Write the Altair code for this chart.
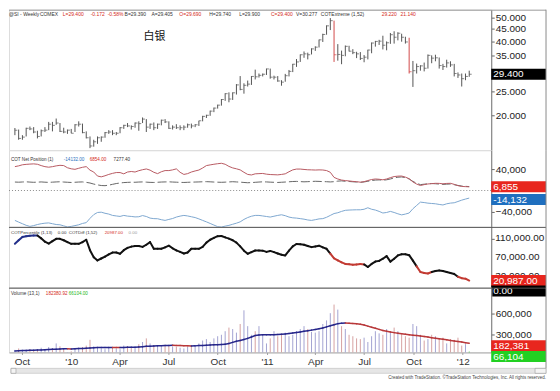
import altair as alt
import pandas as pd

FONT = "Liberation Sans"
CJK = "Noto Sans CJK SC"
FIRST_WEEK = "2009-09-18"

# ---------------- weekly silver (COMEX) bars ----------------
price_high = [17.75, 17.5, 16.6, 17.8, 18.0, 17.9, 17.3, 17.5, 17.9, 18.8, 18.8, 19.4, 18.6, 17.8, 17.5, 17.6,
              18.4, 18.9, 18.5, 17.2, 16.4, 15.9, 16.4, 16.4, 17.1, 17.4, 17.4, 17.1, 17.9, 18.3, 18.6, 18.2,
              18.7, 18.9, 19.6, 19.3, 18.5, 18.7, 18.5, 19.2, 19.3, 18.9, 18.2, 18.4, 18.2, 18.2, 18.5, 18.5,
              18.4, 19.0, 19.9, 20.1, 20.9, 21.5, 22.1, 23.3, 24.6, 24.8, 24.8, 26.8, 28.9, 27.0, 27.7, 28.9,
              30.7, 29.6, 29.6, 31.0,
              31.0, 29.0, 28.9, 27.8, 29.5, 30.6, 32.4, 33.9, 35.4, 36.4, 36.0, 37.5, 38.2, 40.7, 43.0, 46.5,
              49.8, 48.6, 39.0, 36.7, 38.5, 38.4, 37.2, 36.3, 36.2, 35.2, 37.0, 39.6, 40.2, 40.6, 42.2, 40.0,
              43.3, 44.0, 43.6, 43.0, 41.8, 41.4, 33.3, 32.5, 32.0, 32.8, 35.4, 35.1, 35.3, 34.4, 32.4, 33.7,
              33.2, 32.4, 29.9, 29.6,
              29.6, 30.4]
price_low = [16.6, 15.9, 15.9, 16.4, 17.4, 16.9, 16.1, 16.4, 17.1, 17.4, 17.2, 18.3, 17.1, 16.9, 16.8, 16.9,
             17.1, 18.0, 16.9, 16.1, 14.7, 14.9, 15.3, 15.6, 16.2, 16.8, 16.6, 16.6, 16.9, 17.6, 17.9, 17.5,
             17.8, 17.3, 18.6, 17.1, 17.6, 17.4, 17.6, 18.2, 18.6, 17.6, 17.5, 17.6, 17.4, 17.4, 17.8, 17.7,
             17.9, 18.1, 18.9, 19.5, 19.9, 20.6, 21.3, 21.9, 22.9, 22.6, 23.1, 24.3, 25.3, 24.5, 26.2, 26.6,
             28.0, 28.5, 28.8, 29.2,
             28.2, 28.0, 27.4, 26.4, 27.4, 28.8, 30.0, 31.5, 33.0, 34.3, 33.8, 35.4, 36.6, 37.8, 39.8, 42.6,
             44.5, 33.0, 33.4, 32.3, 34.8, 36.4, 35.5, 34.2, 33.6, 32.9, 33.8, 35.8, 38.1, 38.7, 37.1, 36.8,
             39.1, 39.2, 40.4, 39.9, 39.2, 29.6, 26.1, 29.6, 30.4, 30.2, 31.0, 32.6, 33.2, 31.0, 30.6, 31.3,
             31.5, 28.8, 28.4, 26.2,
             27.8, 28.7]
price_close = [17.4, 16.1, 16.3, 17.7, 17.6, 17.1, 16.4, 17.3, 17.4, 18.4, 18.2, 18.6, 17.2, 17.1, 17.4, 16.9,
               18.3, 18.4, 17.0, 16.2, 15.0, 15.6, 16.2, 16.3, 17.0, 17.1, 16.9, 16.9, 17.8, 18.2, 18.1, 18.0,
               18.6, 18.5, 19.3, 17.9, 18.4, 17.8, 18.4, 19.1, 18.8, 17.7, 17.9, 17.8, 17.8, 17.9, 18.3, 18.1,
               18.3, 19.0, 19.8, 20.0, 20.8, 21.4, 22.0, 23.2, 24.5, 23.3, 24.7, 26.6, 25.5, 26.5, 26.8, 28.8,
               28.7, 29.1, 29.4, 30.9,
               28.6, 28.6, 27.6, 27.3, 29.0, 30.2, 32.3, 33.0, 35.3, 35.6, 35.3, 37.3, 37.9, 40.6, 42.7, 46.3,
               48.6, 35.3, 35.4, 35.1, 38.2, 36.5, 36.0, 35.6, 34.1, 34.5, 36.9, 39.4, 40.0, 40.1, 38.6, 39.5,
               42.6, 41.6, 43.2, 41.6, 39.8, 30.1, 30.4, 31.6, 31.8, 31.1, 35.1, 34.2, 34.3, 31.9, 31.6, 32.7,
               32.1, 29.6, 29.2, 28.2,
               28.8, 29.4]
price_hot_weeks = [85, 105]

# ---------------- COT net position (thousands of contracts) ----------------
net_red = [44.6, 46, 48, 48.8, 49.3, 49.7, 49.0, 46.5, 44.5, 43.5,
           44.5, 46.0, 47.0, 46.5, 42.5, 40.5, 39.5, 41.5, 43.3, 44.6,
           38, 34.5, 27, 25.5, 27.5, 30, 32, 33.5, 33.5, 31.1,
           34.5, 35.5, 34.5, 37, 38.8, 40.2, 38, 34, 31.5, 35,
           37.2, 37.2, 38.5, 40.4, 34, 30, 31.5, 34.5, 36.5, 38.2,
           42, 46.5, 47.8, 49, 50, 50.8, 49, 45, 42.2, 40.5,
           38.5, 34, 30, 29, 31.1, 31.5, 31.8, 30.5, 29.8, 29.5,
           29.2, 30, 31.1, 35, 38.5, 40, 40, 39.3, 38.7, 38.5,
           38.2, 38.5, 38.3, 37.2, 34, 24.5, 21.5, 19.5, 18.5, 17.8,
           17, 16.5, 15.5, 16.5, 18.6, 20.5, 21.5, 21, 20, 21.5,
           24, 26, 26.8, 27, 25, 22, 16, 12, 9.3, 11,
           12.2, 12.8, 13.4, 13.3, 12.5, 13.2, 13.4, 11.5, 9, 7.6,
           7.2, 6.855]
net_black = [15.8, 15.5, 15.9, 16.2, 15.7, 15.3, 15.6, 16.0, 15.5, 15.2,
             15.6, 16.0, 16.3, 15.8, 15.4, 15.0, 15.4, 15.8, 16.0, 15.2,
             14.0, 12.0, 10.5, 9.3, 9.0, 10.0, 11.5, 13.0, 14.0, 14.8,
             15.2, 15.5, 15.4, 15.8, 16.0, 15.6, 15.2, 15.0, 15.4, 15.8,
             16.0, 16.2, 15.8, 15.5, 15.2, 15.0, 15.3, 15.6, 15.8, 16.0,
             16.3, 16.5, 16.2, 15.8, 15.5, 15.3, 15.6, 16.0, 16.4, 16.0,
             15.6, 15.0, 14.5, 14.8, 15.3, 15.8, 16.2, 16.0, 15.6, 15.3,
             15.0, 15.4, 15.8, 16.3, 16.8, 17.0, 16.6, 16.2, 16.5, 16.9,
             17.2, 17.0, 16.6, 16.4, 16.0, 16.5, 17.5, 18.0, 17.2, 16.8,
             16.3, 15.8, 15.2, 16.0, 17.2, 18.5, 19.5, 19.8, 19.2, 20.0,
             21.5, 23.5, 24.8, 25.3, 24.0, 21.5, 17.0, 13.5, 11.0, 11.8,
             12.5, 13.0, 12.6, 12.0, 11.4, 11.8, 12.2, 10.8, 9.5, 8.4,
             7.8, 7.277]
net_blue = [-55.8, -59, -62, -65, -67, -65.5, -63.5, -62, -61, -60.5,
            -62, -63.5, -64, -66, -68, -67, -65.5, -64, -61.5, -60,
            -52, -45, -41, -40.5, -42.5, -44, -46.5, -47.5, -48.4, -46.5,
            -47.8, -48.4, -49.3, -49, -46.8, -48.5, -51.5, -52.5, -52.7, -54.5,
            -55.8, -54, -52.3, -49.6, -47.8, -46.5, -47.5, -49, -50.5, -53,
            -55.8, -58.5, -61.5, -64.5, -67.5, -68.2, -66.5, -65.1, -63, -61,
            -58.5, -54, -50.5, -48, -46.5, -46.5, -47.5, -48.5, -49.6, -48,
            -46.5, -45.3, -47, -49.6, -51, -51.5, -52.5, -53.5, -55, -55.8,
            -54.5, -53, -52.5, -50, -46.5, -43, -41.5, -39, -37, -36.5,
            -36.2, -36, -36, -35, -32.2, -35, -36.5, -39, -42, -41,
            -39, -41, -43.5, -45.5, -44, -42, -34, -27.9, -21.7, -22.5,
            -23.6, -24.2, -24.8, -26, -27, -24.8, -23.5, -22.9, -20.5, -18,
            -16, -14.132]

# ---------------- COT percentile (thousands) ----------------
pct_line = [98.5, 106, 113, 114.5, 115.5, 115.9, 115.9, 110, 103, 99,
            104, 109, 109, 106, 102, 98.5, 98.5, 98.5, 102, 107,
            85, 70, 63.4, 67.5, 71.5, 76, 80, 80, 77.5, 85,
            90, 92.5, 94, 94, 92, 96.5, 102, 88, 88, 88,
            91, 94.5, 89, 84.5, 81.5, 78, 80, 88, 88, 88,
            92, 101, 107, 111, 114.5, 115, 112, 109.5, 106, 101,
            93, 84, 77.5, 81, 84.4, 84.4, 84, 81.5, 83.5, 81,
            78, 75.5, 74, 84, 93, 98, 97.5, 96.5, 94, 91.5,
            93, 94.5, 91, 88, 78, 68, 63.5, 59.5, 56, 55.5,
            54.5, 55, 56, 55, 49.5, 56, 61, 62.5, 67, 72.5,
            61, 67, 74, 76.5, 76.5, 74.5, 63, 51, 39, 37,
            36, 39, 41, 42.4, 41, 39, 37, 35, 29, 26,
            25, 20.987]
pct_red_spans = [(84, 93), (107, 111), (118, 121)]
pct_navy_spans = [(0, 6)]
pct_tick_values = [30, 70, 110]
pct_tick_labels = ["30,000.00", "70,000.00", "110,000.00"]

# ---------------- volume (thousands) ----------------
vol_bars = [90, 110, 80, 95, 100, 85, 90, 120, 95, 130,
            110, 180, 140, 100, 60, 70, 110, 120, 130, 150,
            230, 140, 120, 110, 100, 130, 120, 110, 100, 150,
            140, 130, 120, 170, 200, 250, 180, 150, 140, 130,
            160, 150, 140, 130, 120, 110, 130, 150, 140, 180,
            220, 240, 200, 250, 280, 300, 350, 400, 380, 330,
            450, 640, 420, 300, 350, 420, 300, 180, 250, 350,
            280, 300, 330, 280, 300, 350, 380, 420, 380, 340,
            330, 350, 450, 500, 600, 720, 650, 420, 380, 300,
            280, 250, 240, 260, 200, 280, 350, 320, 300, 380,
            330, 400, 350, 300, 280, 260, 450, 420, 300, 220,
            240, 300, 280, 250, 260, 180, 240, 230, 260, 150,
            170, 66.104]
vol_ma = [75, 78, 80, 82, 84, 86, 88, 90, 92, 95,
          98, 100, 103, 105, 105, 104, 106, 108, 110, 112,
          118, 120, 122, 122, 123, 124, 124, 123, 122, 124,
          126, 127, 128, 130, 135, 140, 142, 145, 146, 148,
          150, 152, 153, 152, 150, 148, 146, 145, 146, 150,
          150, 155, 158, 160, 163, 166, 170, 180, 195, 210,
          222, 235, 250, 270, 290, 298, 300, 300, 300, 302,
          305, 308, 312, 318, 325, 332, 340, 348, 356, 365,
          375, 385, 395, 410, 425, 440, 455, 462, 464, 462,
          458, 452, 445, 435, 420, 405, 390, 375, 360, 348,
          338, 330, 322, 315, 308, 300, 295, 290, 282, 275,
          268, 260, 252, 245, 238, 230, 222, 215, 208, 200,
          190, 182.381]

x_tick_months = [(2009, 10), (2010, 1), (2010, 4), (2010, 7), (2010, 10),
                 (2011, 1), (2011, 4), (2011, 7), (2011, 10), (2012, 1)]

# ---------------- layout ----------------
W = 484
AX_R = 539
H_PRICE, H_NET, H_PCT, H_VOL = 141, 77, 61, 65
DARK, RED, BLUE, GREEN = "#333333", "#d42a22", "#2a72c0", "#24b824"

dates = pd.date_range(FIRST_WEEK, periods=len(price_close), freq="7D")
one = pd.DataFrame({"k": [0]})

xsc = alt.Scale(domain=[alt.DateTime(year=2009, month=9, date=7),
                        alt.DateTime(year=2012, month=2, date=23)])
X = alt.X("date:T", scale=xsc, axis=None)

axr = dict(orient="right", title=None, grid=False, tickSize=3, tickColor="#666",
           domainColor="#777", labelFontSize=10, labelColor="#222", labelPadding=1,
           labelFont=FONT, labelOverlap=False)


def header(tokens, y, size):
    layers = []
    for txt, px, col in tokens:
        layers.append(alt.Chart(one).mark_text(text=txt, color=col, fontSize=size, font=FONT,
                                               align="left", baseline="middle")
                      .encode(x=alt.value(px), y=alt.value(y)))
    return layers


def badge(value, label, fill, scale, dy=0, tcolor="white"):
    d = pd.DataFrame({"v": [value], "t": [label]})
    r = alt.Chart(d).mark_rule(color=fill, strokeWidth=11, strokeCap="butt", yOffset=dy).encode(
        x=alt.value(W), x2=alt.value(AX_R), y=alt.Y("v:Q", scale=scale))
    t = alt.Chart(d).mark_text(align="left", baseline="middle", color=tcolor, fontSize=10,
                               font=FONT, yOffset=dy).encode(
        x=alt.value(W + 2), y=alt.Y("v:Q", scale=scale), text="t:N")
    return [r, t]


def right_border(h):
    return alt.Chart(one).mark_rule(color="#8a8a8a").encode(
        x=alt.value(AX_R), y=alt.value(0), y2=alt.value(h))


def top_line(color="#555"):
    return alt.Chart(one).mark_rule(color=color, strokeWidth=1).encode(
        x=alt.value(0), x2=alt.value(AX_R), y=alt.value(0.5))


# ---------------- price panel ----------------
price_df = pd.DataFrame({"date": dates, "high": price_high, "low": price_low, "close": price_close})
price_df["col"] = ["#d24a4a" if i in price_hot_weeks else "#555555" for i in range(len(price_df))]
psc = alt.Scale(type="log", domain=[14.42, 53.88], nice=False)

p_bars = alt.Chart(price_df).mark_rule(strokeWidth=1).encode(
    x=X,
    y=alt.Y("low:Q", scale=psc,
            axis=alt.Axis(values=[20, 25, 35, 40, 45, 50], format=".3f", **axr)),
    y2="high:Q",
    color=alt.Color("col:N", scale=None))
p_close = alt.Chart(price_df).mark_tick(orient="horizontal", size=2.5, thickness=1, xOffset=1.2).encode(
    x=X, y=alt.Y("close:Q", scale=psc), color=alt.Color("col:N", scale=None))

price_tokens = [("@SI - Weekly", 0, DARK), ("COMEX", 31, DARK), ("L=29.400", 54, RED),
                ("-0.172", 82, RED), ("-0.58%", 99, RED), ("B=29.390", 116, DARK),
                ("A=29.405", 143, DARK), ("O=29.690", 171, RED), ("H=29.740", 201, DARK),
                ("L=29.900", 231, DARK), ("C=29.400", 263, RED), ("V=30.277", 288, DARK),
                ("COTExtreme (1,52)", 313, DARK), ("29.220", 374, RED), ("21.140", 393, RED)]
title = alt.Chart(one).mark_text(text="白银", font=CJK, fontSize=11, color="#111",
                                 align="center", baseline="middle").encode(
    x=alt.value(146), y=alt.value(27))

price_panel = alt.layer(
    p_bars, p_close, title, *header(price_tokens, 4, 5),
    *badge(29.4, "29.400", "#000000", psc),
    top_line("#9a9a9a"), right_border(H_PRICE)
).properties(width=W, height=H_PRICE)

# ---------------- COT net panel ----------------
net_df = pd.DataFrame({"date": dates, "red": net_red, "black": net_black, "blue": net_blue})
nsc = alt.Scale(domain=[-67.9, 75.3], nice=False, zero=False)
n_zero = alt.Chart(pd.DataFrame({"z": [0]})).mark_rule(color="#8c8c8c", strokeDash=[1, 2]).encode(
    y=alt.Y("z:Q", scale=nsc, axis=alt.Axis(values=[-40, 40],
                                              labelExpr="format(datum.value*1000, ',')", **axr)))
n_blue = alt.Chart(net_df).mark_line(color="#7ea8d0", strokeWidth=1).encode(
    x=X, y=alt.Y("blue:Q", scale=nsc))
n_black = alt.Chart(net_df).mark_line(color="#666666", strokeWidth=1, strokeDash=[9, 3]).encode(
    x=X, y=alt.Y("black:Q", scale=nsc))
n_red = alt.Chart(net_df).mark_line(color="#b85a62", strokeWidth=1).encode(
    x=X, y=alt.Y("red:Q", scale=nsc))
net_tokens = [("COT Net Position (1)", 2, DARK), ("-14132.00", 55, BLUE),
              ("6854.00", 81, RED), ("7277.40", 105, DARK)]
net_panel = alt.layer(
    n_zero, n_blue, n_black, n_red, *header(net_tokens, 10, 4.6),
    *badge(6.855, "6,855", "#e8261e", nsc),
    *badge(-14.132, "-14,132", "#1f6fbf", nsc, dy=1.5),
    right_border(H_NET)
).properties(width=W, height=H_NET)


# ---------------- COT percentile panel ----------------
def span_color(k, red_spans, navy_spans):
    for a, b in red_spans:
        if a <= k and k + 1 <= b:
            return "#c23a32"
    for a, b in navy_spans:
        if a <= k and k + 1 <= b:
            return "#23308a"
    return "#111111"


pct_seg = pd.DataFrame({
    "d0": dates[:-1], "d1": dates[1:],
    "v0": pct_line[:-1], "v1": pct_line[1:],
    "c": [span_color(k, pct_red_spans, pct_navy_spans) for k in range(len(pct_line) - 1)],
})
qsc = alt.Scale(domain=[6.05, 134.15], nice=False, zero=False)
q_axis = dict(axr)
q_axis.update(labels=False)
q_line = alt.Chart(pct_seg).mark_rule(strokeWidth=2, strokeCap="round").encode(
    x=alt.X("d0:T", scale=xsc, axis=None), x2="d1:T",
    y=alt.Y("v0:Q", scale=qsc, axis=alt.Axis(values=pct_tick_values, **q_axis)),
    y2="v1:Q", color=alt.Color("c:N", scale=None))
q_labels = alt.Chart(pd.DataFrame({"v": pct_tick_values, "t": pct_tick_labels})).mark_text(
    align="left", baseline="middle", fontSize=10, font=FONT, color="#222").encode(
    x=alt.value(W + 4), y=alt.Y("v:Q", scale=qsc), text="t:N")
pct_tokens = [("COTPercentile (1,13)", 2, DARK), ("0.00", 49, DARK), ("COTDiff (1,52)", 60, DARK),
              ("20987.00", 96, RED), ("0.00", 120, "#999999")]
pct_panel = alt.layer(
    q_line, q_labels, *header(pct_tokens, 6, 4.4),
    *badge(20.987, "20,987.00", "#e8261e", qsc, dy=0),
    *badge(0, "0.00", "#000000", qsc, dy=0.5),
    top_line(), right_border(H_PCT)
).properties(width=W, height=H_PCT)

# ---------------- volume panel ----------------
vol_col = []
for i in range(len(vol_bars)):
    if i == len(vol_bars) - 1:
        vol_col.append("#3cc83c")
    elif i == 0 or price_close[i] >= price_close[i - 1]:
        vol_col.append("#a4a4d2")
    else:
        vol_col.append("#d6a2a2")
vol_df = pd.DataFrame({"date": dates, "vol": vol_bars, "c": vol_col})
ma_seg = pd.DataFrame({
    "d0": dates[:-1], "d1": dates[1:],
    "v0": vol_ma[:-1], "v1": vol_ma[1:],
    "c": ["#26268a" if vol_ma[k + 1] >= vol_ma[k] else "#b8383a" for k in range(len(vol_ma) - 1)],
})
vsc = alt.Scale(domain=[55, 955], nice=False, zero=False)
label_expr = "month(datum.value) == 0 ? \"'\" + timeFormat(datum.value, '%y') : timeFormat(datum.value, '%b')"
x_axis = alt.Axis(values=[alt.DateTime(year=y, month=m, date=1) for y, m in x_tick_months],
                  labelExpr=label_expr, title=None, grid=False, tickSize=2, tickColor="#999",
                  domainColor="#aaa", labelFontSize=10, labelColor="#333", labelPadding=2,
                  labelFont=FONT)
v_bars = alt.Chart(vol_df).mark_rule(strokeWidth=1).encode(
    x=alt.X("date:T", scale=xsc, axis=x_axis),
    y=alt.Y("vol:Q", scale=vsc, axis=alt.Axis(values=[300, 600],
                                                labelExpr="format(datum.value*1000, ',')", **axr)),
    y2=alt.value(H_VOL),
    color=alt.Color("c:N", scale=None))
v_ma = alt.Chart(ma_seg).mark_rule(strokeWidth=1.5, strokeCap="round").encode(
    x=alt.X("d0:T", scale=xsc), x2="d1:T",
    y=alt.Y("v0:Q", scale=vsc), y2="v1:Q",
    color=alt.Color("c:N", scale=None))
vol_tokens = [("Volume (13,1)", 2, DARK), ("182380.92", 37, RED), ("66104.00", 60, GREEN)]

scroll = alt.Chart(one).mark_rect(fill="#e6e6e6", stroke="#bdbdbd", strokeWidth=0.6).encode(
    x=alt.value(2), x2=alt.value(AX_R), y=alt.value(H_VOL + 16), y2=alt.value(H_VOL + 21))
scroll_l = alt.Chart(one).mark_rect(fill="#f4f4f4", stroke="#999", strokeWidth=0.6).encode(
    x=alt.value(2), x2=alt.value(7), y=alt.value(H_VOL + 16), y2=alt.value(H_VOL + 21))
scroll_r = alt.Chart(one).mark_rect(fill="#f4f4f4", stroke="#999", strokeWidth=0.6).encode(
    x=alt.value(AX_R - 11), x2=alt.value(AX_R), y=alt.value(H_VOL + 16), y2=alt.value(H_VOL + 21))
footer = alt.Chart(one).mark_text(
    text="Created with TradeStation. ©TradeStation Technologies, Inc. All rights reserved.",
    fontSize=4.5, font=FONT, color="#444", align="right", baseline="middle").encode(
    x=alt.value(AX_R), y=alt.value(H_VOL + 26))

vol_panel = alt.layer(
    v_bars, v_ma, *header(vol_tokens, 6, 4.6),
    *badge(182.381, "182,381", "#e8261e", vsc, dy=2.5),
    *badge(66.104, "66,104", "#22d022", vsc, dy=5),
    top_line(), right_border(H_VOL + 16), scroll, scroll_l, scroll_r, footer
).properties(width=W, height=H_VOL)

chart = alt.vconcat(price_panel, net_panel, pct_panel, vol_panel, spacing=0, bounds="flush") \
    .properties(padding=0) \
    .configure_view(stroke=None) \
    .configure(font=FONT, background="white")

chart.save("out.html", embed_options={"renderer": "svg", "actions": False})
